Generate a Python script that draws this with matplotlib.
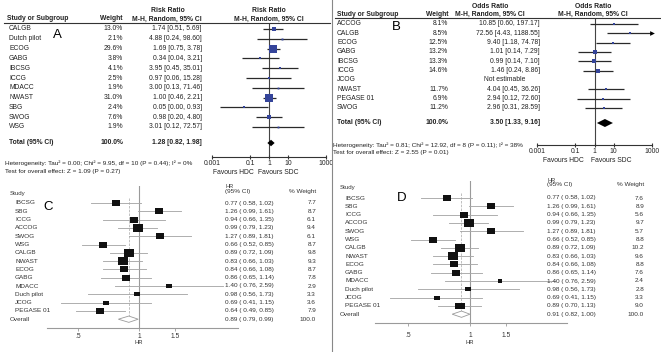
import numpy as np
import matplotlib
matplotlib.use("Agg")
import matplotlib.pyplot as plt
from matplotlib.path import Path
from matplotlib.ticker import NullLocator, FixedLocator
import matplotlib.transforms as mtrans

# ---------------- data ----------------
# Panel A : Risk Ratio
a_studies = ["CALGB", "Dutch pilot", "ECOG", "GABG", "IBCSG", "ICCG", "MDACC",
             "NWAST", "SBG", "SWOG", "WSG"]
a_weight = [13.0, 2.1, 29.6, 3.8, 4.1, 2.5, 1.9, 31.0, 2.4, 7.6, 1.9]
a_est = [1.74, 4.88, 1.69, 0.34, 3.95, 0.97, 3.00, 1.00, 0.05, 0.98, 3.01]
a_lo = [0.51, 0.24, 0.75, 0.04, 0.45, 0.06, 0.13, 0.46, 0.0026, 0.20, 0.12]
a_hi = [5.69, 98.60, 3.78, 3.21, 35.01, 15.28, 71.46, 2.21, 0.93, 4.80, 72.57]
a_total = [1.28, 0.82, 1.98]
a_het = "Heterogeneity: Tau\u00b2 = 0.00; Chi\u00b2 = 9.95, df = 10 (P = 0.44); I\u00b2 = 0%"
a_test = "Test for overall effect: Z = 1.09 (P = 0.27)"

# Panel B : Odds Ratio
b_studies = ["ACCOG", "CALGB", "ECOG", "GABG", "IBCSG", "ICCG", "JCOG",
             "NWAST", "PEGASE 01", "SWOG"]
b_weight = [8.1, 8.5, 12.5, 13.2, 13.3, 14.6, np.nan, 11.7, 6.9, 11.2]
b_est = [10.85, 72.56, 9.40, 1.01, 0.99, 1.46, np.nan, 4.04, 2.94, 2.96]
b_lo = [0.60, 4.43, 1.18, 0.14, 0.14, 0.24, np.nan, 0.45, 0.12, 0.31]
b_hi = [197.17, 1188.55, 74.78, 7.29, 7.10, 8.86, np.nan, 36.26, 72.60, 28.59]
b_total = [3.50, 1.33, 9.16]
b_het = "Heterogeneity: Tau\u00b2 = 0.81; Chi\u00b2 = 12.92, df = 8 (P = 0.11); I\u00b2 = 38%"
b_test = "Test for overall effect: Z = 2.55 (P = 0.01)"

rm_ticks = [0.001, 0.1, 1, 10, 1000]
rm_ticklabels = ["0.001", "0.1", "1", "10", "1000"]

# Panels C and D : hazard ratios
cd_studies = ["IBCSG", "SBG", "ICCG", "ACCOG", "SWOG", "WSG", "CALGB", "NWAST",
              "ECOG", "GABG", "MDACC", "Duch pilot", "JCOG", "PEGASE 01"]
c_hr = [0.77, 1.26, 0.94, 0.99, 1.27, 0.66, 0.89, 0.83, 0.84, 0.86, 1.40, 0.98, 0.69, 0.64]
c_lo = [0.58, 0.99, 0.66, 0.79, 0.89, 0.52, 0.72, 0.66, 0.66, 0.65, 0.76, 0.56, 0.41, 0.49]
c_hi = [1.02, 1.61, 1.35, 1.23, 1.81, 0.85, 1.09, 1.03, 1.08, 1.14, 2.59, 1.73, 1.15, 0.85]
c_w = [7.7, 8.7, 6.1, 9.4, 6.1, 8.7, 9.8, 9.3, 8.7, 7.8, 2.9, 3.3, 3.6, 7.9]
c_overall = [0.89, 0.79, 0.99]

d_hr = [0.77, 1.26, 0.94, 0.99, 1.27, 0.66, 0.89, 0.83, 0.84, 0.86, 1.40, 0.98, 0.69, 0.89]
d_lo = [0.58, 0.99, 0.66, 0.79, 0.89, 0.52, 0.72, 0.66, 0.66, 0.65, 0.76, 0.56, 0.41, 0.70]
d_hi = [1.02, 1.61, 1.35, 1.23, 1.81, 0.85, 1.09, 1.03, 1.08, 1.14, 2.59, 1.73, 1.15, 1.13]
d_w = [7.6, 8.9, 5.6, 9.7, 5.7, 8.8, 10.2, 9.6, 8.8, 7.6, 2.4, 2.8, 3.3, 9.0]
d_overall = [0.91, 0.82, 1.00]

hr_ticks = [0.5, 1, 1.5]
hr_ticklabels = [".5", "1", "1.5"]

# ---------------- drawing ----------------
W, H = 661, 352
plt.rcParams['font.family'] = ['Liberation Sans', 'DejaVu Sans']
TXT = '#222222'
BLUE = '#34449a'

fig = plt.figure(figsize=(W / 100, H / 100), dpi=100)
fig.patch.set_facecolor('white')


def T(x, y, s, **kw):
    kw.setdefault('va', 'center')
    kw.setdefault('color', TXT)
    return fig.text(x / W, 1 - y / H, s, **kw)


def add_ax(x0, x1, ytop, ybot, row0, step, xlim):
    ax = fig.add_axes([x0 / W, 1 - ybot / H, (x1 - x0) / W, (ybot - ytop) / H])
    ax.set_xscale('log')
    ax.set_xlim(*xlim)
    ax.set_ylim((ybot - row0) / step, (ytop - row0) / step)
    ax.patch.set_visible(False)
    for s in ('top', 'left', 'right'):
        ax.spines[s].set_visible(False)
    ax.tick_params(axis='y', left=False, labelleft=False)
    ax.xaxis.set_minor_locator(NullLocator())
    return ax


def rowtr(ax):
    return mtrans.blended_transform_factory(fig.transFigure, ax.transData)


def revman(ax, names, w, est, lo, hi, tot, name_x, w_x, eff_x, na_x,
           sq_k, tot_row, dh, fs=4.9):
    tr = rowtr(ax)
    ax.spines['bottom'].set_color('#333333')
    ax.spines['bottom'].set_linewidth(0.8)
    ax.xaxis.set_major_locator(FixedLocator(rm_ticks))
    ax.set_xticklabels(rm_ticklabels)
    ax.tick_params(axis='x', direction='inout', length=3.5, width=0.8,
                   color='#333333', labelsize=fs, pad=0.3, labelcolor=TXT)
    ax.axvline(1, color='#444444', lw=0.8, zorder=1)
    xmax = ax.get_xlim()[1]
    for i, nm in enumerate(names):
        ax.text(name_x / W, i, nm, transform=tr, fontsize=fs, va='center', color=TXT)
        if np.isnan(est[i]):
            ax.text(na_x / W, i, "Not estimable", transform=tr, fontsize=fs,
                    va='center', ha='center', color=TXT)
            continue
        ax.text(w_x / W, i, f"{w[i]:.1f}%", transform=tr, fontsize=fs,
                va='center', ha='right', color=TXT)
        ax.text(eff_x / W, i, f"{est[i]:.2f} [{lo[i]:.2f}, {hi[i]:.2f}]",
                transform=tr, fontsize=fs, va='center', ha='right', color=TXT)
        top = float(min(hi[i], xmax))
        ax.hlines(float(i), float(lo[i]), top, colors='#2a2a2a',
                  linewidths=0.9, zorder=2.5, clip_on=False)
        if hi[i] > xmax:
            ax.plot([xmax], [i], marker='>', ms=3.4, color='black', mew=0,
                    clip_on=False, zorder=3)
        ax.plot([est[i]], [i], marker='s', ms=sq_k * np.sqrt(w[i]) * 0.72,
                color=BLUE, mew=0, zorder=3, clip_on=False, linestyle='none')
    e, l, h = tot
    ax.fill([l, e, h, e], [tot_row, tot_row - dh, tot_row, tot_row + dh],
            color='black', zorder=3, clip_on=False, lw=0)
    ax.text(name_x / W, tot_row, "Total (95% CI)", transform=tr, fontsize=fs,
            va='center', fontweight='bold', color=TXT)
    ax.text(w_x / W, tot_row, "100.0%", transform=tr, fontsize=fs, va='center',
            ha='right', fontweight='bold', color=TXT)
    ax.text(eff_x / W, tot_row, f"{e:.2f} [{l:.2f}, {h:.2f}]", transform=tr,
            fontsize=fs, va='center', ha='right', fontweight='bold', color=TXT)


# ---- Panel A ----
axA = add_ax(212, 326, 23, 157, 29, 9.8, (1e-3, 1e3))
revman(axA, a_studies, a_weight, a_est, a_lo, a_hi, a_total,
       name_x=9, w_x=123, eff_x=202, na_x=180, sq_k=7.5 / np.sqrt(31),
       tot_row=(143 - 29) / 9.8, dh=0.33)
T(168, 10, "Risk Ratio", ha='center', fontsize=4.9, fontweight='bold')
T(269, 10, "Risk Ratio", ha='center', fontsize=4.9, fontweight='bold')
T(167, 19, "M-H, Random, 95% CI", ha='center', fontsize=4.9, fontweight='bold')
T(269, 19, "M-H, Random, 95% CI", ha='center', fontsize=4.9, fontweight='bold')
T(7, 19, "Study or Subgroup", ha='left', fontsize=4.9, fontweight='bold')
T(123, 19, "Weight", ha='right', fontsize=4.9, fontweight='bold')
fig.add_artist(plt.Line2D([4 / W, 330 / W], [1 - 23 / H, 1 - 23 / H],
                          color='#333333', lw=0.8))
T(5, 163, a_het, ha='left', fontsize=4.6)
T(5, 171, a_test, ha='left', fontsize=4.6)
T(254, 172, "Favours HDC", ha='right', fontsize=4.9)
T(258, 172, "Favours SDC", ha='left', fontsize=4.9)
T(57, 35, "A", ha='center', fontsize=9.5, color='black')

# ---- Panel B ----
axB = add_ax(537, 652, 18, 145, 24, 9.33, (1e-3, 1e3))
revman(axB, b_studies, b_weight, b_est, b_lo, b_hi, b_total,
       name_x=337, w_x=448, eff_x=540, na_x=505, sq_k=3.2 / np.sqrt(14.6),
       tot_row=(123 - 24) / 9.33, dh=0.43)
T(490, 6, "Odds Ratio", ha='center', fontsize=4.9, fontweight='bold')
T(593, 6, "Odds Ratio", ha='center', fontsize=4.9, fontweight='bold')
T(490, 14.5, "M-H, Random, 95% CI", ha='center', fontsize=4.9, fontweight='bold')
T(593, 14.5, "M-H, Random, 95% CI", ha='center', fontsize=4.9, fontweight='bold')
T(337, 14.5, "Study or Subgroup", ha='left', fontsize=4.9, fontweight='bold')
T(448, 14.5, "Weight", ha='right', fontsize=4.9, fontweight='bold')
fig.add_artist(plt.Line2D([335 / W, 661 / W], [1 - 18 / H, 1 - 18 / H],
                          color='#333333', lw=0.8))
T(333, 145, b_het, ha='left', fontsize=4.6)
T(333, 153, b_test, ha='left', fontsize=4.6)
T(584, 160, "Favours HDC", ha='right', fontsize=4.9)
T(591, 160, "Favours SDC", ha='left', fontsize=4.9)
T(396, 27, "B", ha='center', fontsize=9.5, color='black')

# vertical separator
fig.add_artist(plt.Line2D([332 / W, 332 / W], [0, 1], color='#888888', lw=0.8))


# ---- Panels C / D ----
def stata(ax, names, hr, lo, hi, w, ov, name_x, study_y, hr_x, hdr_y, wt_x,
          lab_pad, hr_lab_y, fs=4.6):
    tr = rowtr(ax)
    ax.spines['bottom'].set_color('#9a9a9a')
    ax.spines['bottom'].set_linewidth(0.8)
    ax.xaxis.set_major_locator(FixedLocator(hr_ticks))
    ax.set_xticklabels(hr_ticklabels)
    ax.tick_params(axis='x', direction='out', length=2.2, width=0.6,
                   color='#9a9a9a', labelsize=4.8, pad=lab_pad, labelcolor='#333333')
    ax.axvline(1, color='#9a9a9a', lw=0.8, zorder=1)
    n = len(names)
    ax.plot([ov[0], ov[0]], [-0.6, n - 0.4], color='#b5b5b5', lw=0.6,
            ls=(0, (3, 1.5)), zorder=1)
    rect = Path([(-1.3, -1), (1.3, -1), (1.3, 1), (-1.3, 1), (-1.3, -1)],
                [Path.MOVETO, Path.LINETO, Path.LINETO, Path.LINETO, Path.CLOSEPOLY])
    for i in range(n):
        ax.plot([lo[i], hi[i]], [i, i], color='#a8a8a8', lw=0.65, zorder=2,
                clip_on=False)
        ax.plot([hr[i]], [i], marker=rect, ms=9.2 * np.sqrt(w[i] / 9.4) * 0.72,
                color='#111111', mew=0, zorder=3, clip_on=False)
        ax.text(name_x / W, i, names[i], transform=tr, fontsize=fs, va='center',
                color='#333333')
        ax.text(hr_x / W, i, f"{hr[i]:.2f} ( {lo[i]:.2f}, {hi[i]:.2f})",
                transform=tr, fontsize=fs, va='center', color='#333333')
        ax.text(wt_x / W, i, f"{w[i]:.1f}", transform=tr, fontsize=fs,
                va='center', ha='right', color='#333333')
    e, l, h = ov
    dh = 0.38
    ax.fill([l, e, h, e], [n, n - dh, n, n + dh], facecolor='white',
            edgecolor='#9a9a9a', lw=0.6, zorder=3, clip_on=False)
    ax.text((name_x - 5) / W, n, "Overall", transform=tr, fontsize=fs,
            va='center', color='#333333')
    ax.text(hr_x / W, n, f"{e:.2f} ( {l:.2f}, {h:.2f})", transform=tr,
            fontsize=fs, va='center', color='#333333')
    ax.text(wt_x / W, n, "100.0", transform=tr, fontsize=fs,
            va='center', ha='right', color='#333333')
    T(name_x - 5, study_y, "Study", ha='left', fontsize=fs - 0.2, color='#333333')
    T(hr_x, hdr_y - 5, "HR", ha='left', fontsize=fs - 0.6, color='#333333')
    T(hr_x, hdr_y, "(95% CI)", ha='left', fontsize=fs, color='#333333')
    T(wt_x, hdr_y, "% Weight", ha='right', fontsize=fs, color='#333333')
    lt = mtrans.blended_transform_factory(ax.transData, fig.transFigure)
    ax.text(1, 1 - hr_lab_y / H, "HR", transform=lt, ha='center', va='center',
            fontsize=4.2, color='#333333')


axC = add_ax(47, 238, 186, 328, 203, 8.3, (0.351, 3.08))
stata(axC, cd_studies, c_hr, c_lo, c_hi, c_w, c_overall, name_x=15,
      study_y=193, hr_x=225, hdr_y=192, wt_x=316, lab_pad=1.6, hr_lab_y=343)
T(48, 207, "C", ha='center', fontsize=9.5, color='black')

axD = add_ax(375, 567, 181, 323, 198, 8.3, (0.346, 2.96))
stata(axD, cd_studies, d_hr, d_lo, d_hi, d_w, d_overall, name_x=345,
      study_y=188, hr_x=547, hdr_y=185, wt_x=644, lab_pad=4.6, hr_lab_y=343)
T(402, 198, "D", ha='center', fontsize=9.5, color='black')

fig.savefig("out.png", dpi=100, facecolor='white')
